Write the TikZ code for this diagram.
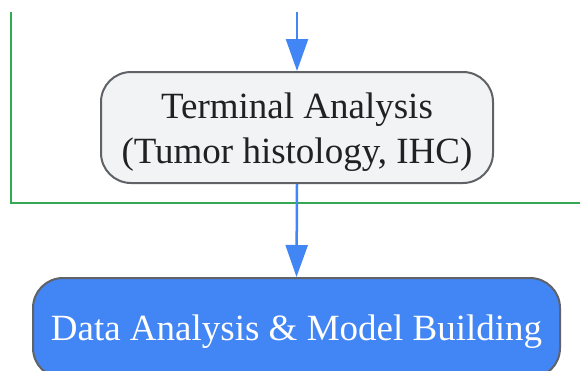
\documentclass[tikz,border=0pt]{standalone}
\usepackage{fontspec}
\setmainfont{Liberation Serif}
\usetikzlibrary{arrows.meta}
\definecolor{gblue}{HTML}{4285F4}
\definecolor{ggreen}{HTML}{34A853}
\definecolor{gborder}{HTML}{5F6368}
\definecolor{gfill}{HTML}{F1F3F4}
\definecolor{gtext}{HTML}{202124}
\tikzset{
  procbox/.style={draw=gborder, line width=2pt, rounded corners=30pt, align=center,
    font=\fontsize{37}{45}\selectfont, inner sep=0pt},
  flow/.style={draw=gblue, line width=2.5pt, -{Triangle[length=32pt,width=22pt]}},
  cluster/.style={draw=ggreen, line width=2pt}
}
\begin{document}
\begin{tikzpicture}[x=1pt,y=-1pt]
\useasboundingbox (0,0) rectangle (580,370);
\clip (0,0) rectangle (580,370);
% cluster boundary
\coordinate (c1) at (10.5,12);
\coordinate (c2) at (10.5,202.5);
\coordinate (c3) at (590,202.5);
\draw[cluster] (c1) -- (c2) -- (c3);
% nodes
\node[procbox, fill=gfill, text=gtext, minimum width=392pt, minimum height=111pt] (term) at (297,127.5)
  {\rule{0pt}{34pt}Terminal Analysis\\(Tumor histology, IHC)};
\node[procbox, fill=gblue, text=white, minimum width=527pt, minimum height=100pt] (bot) at (296.5,328)
  {\rule{0pt}{32pt}Data Analysis \& Model Building};
% connectors
\coordinate (in) at (297,12);
\draw[flow] (in) -- (term.north);
\draw[flow] (term.south) -- (bot.north);
\end{tikzpicture}
\end{document}
